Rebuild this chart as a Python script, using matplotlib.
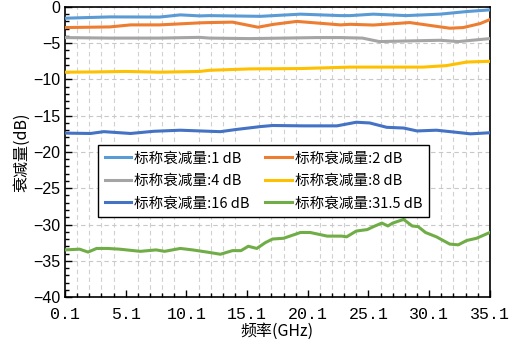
import matplotlib.pyplot as plt
from matplotlib.ticker import MultipleLocator, FixedLocator
import numpy as np

plt.rcParams['font.family'] = ['Noto Sans CJK SC', 'DejaVu Sans']

# frequency (GHz) / attenuation (dB)
f_1 = [0.1, 3.8, 7.9, 9.6, 11.2, 12.0, 16.2, 19.5, 22.8, 23.6, 25.5, 28.2, 31.0, 33.2, 35.1]
a_1 = [-1.56, -1.38, -1.4, -1.1, -1.24, -1.2, -1.3, -1.0, -1.2, -1.2, -1.0, -1.2, -1.0, -0.64, -0.41]

f_2 = [0.1, 3.8, 5.5, 7.9, 11.2, 12.0, 13.9, 16.0, 17.3, 19.2, 22.8, 23.6, 25.5, 28.5, 31.8, 32.9, 34.3, 35.1]
a_2 = [-2.85, -2.76, -2.48, -2.48, -2.2, -2.16, -2.1, -2.8, -2.4, -2.0, -2.48, -2.4, -2.5, -2.16, -2.94, -2.85, -2.3, -1.75]

f_4 = [0.1, 3.8, 7.9, 11.2, 12.0, 15.3, 18.1, 20.8, 22.8, 24.6, 26.0, 28.2, 31.0, 32.5, 35.1]
a_4 = [-4.23, -4.3, -4.3, -4.2, -4.3, -4.37, -4.3, -4.23, -4.23, -4.3, -4.78, -4.7, -4.6, -4.78, -4.37]

f_8 = [0.1, 2.4, 5.1, 7.9, 11.2, 12.0, 15.3, 19.5, 23.6, 26.3, 29.6, 31.5, 33.2, 35.1]
a_8 = [-9.0, -8.97, -8.9, -9.0, -8.9, -8.74, -8.55, -8.5, -8.3, -8.3, -8.3, -8.1, -7.6, -7.5]

f_16 = [0.1, 2.2, 3.3, 5.5, 7.4, 9.6, 11.2, 12.9, 14.2, 16.2, 17.2, 19.7, 22.5, 24.1, 25.2,
        26.6, 28.0, 29.1, 30.7, 32.4, 33.5, 34.6, 35.1]
a_16 = [-17.4, -17.45, -17.2, -17.45, -17.15, -17.0, -17.1, -17.2, -16.9, -16.5, -16.35, -16.4, -16.4, -15.9, -16.0,
        -16.6, -16.7, -17.1, -17.0, -17.3, -17.5, -17.4, -17.35]

f_31 = [0.1, 1.3, 2.0, 2.7, 3.6, 4.6, 6.3, 7.6, 8.3, 9.6, 10.6, 11.8, 12.9, 13.9, 14.6, 15.2, 15.9,
        16.6, 17.2, 18.1, 19.5, 20.3, 21.7, 22.9, 23.3, 24.1, 25.0, 25.5, 26.2, 26.7, 27.1, 28.0,
        28.7, 29.2, 29.8, 30.7, 31.8, 32.5, 33.2, 34.0, 35.1]
a_31 = [-33.5, -33.4, -33.8, -33.3, -33.3, -33.4, -33.7, -33.5, -33.7, -33.3, -33.5, -33.8, -34.1, -33.6, -33.6, -33.0, -33.3,
        -32.5, -32.0, -31.9, -31.1, -31.1, -31.6, -31.6, -31.7, -30.9, -30.7, -30.3, -29.8, -30.2, -29.8, -29.3,
        -30.2, -30.3, -31.1, -31.7, -32.7, -32.8, -32.2, -31.9, -31.1]

labels = ['标称衰减量:1 dB', '标称衰减量:2 dB', '标称衰减量:4 dB',
          '标称衰减量:8 dB', '标称衰减量:16 dB', '标称衰减量:31.5 dB']
colors = ['#5B9BD5', '#ED7D31', '#A5A5A5', '#FFC000', '#4472C4', '#70AD47']
xticks = [0.1, 5.1, 10.1, 15.1, 20.1, 25.1, 30.1, 35.1]
yticks = [0, -5, -10, -15, -20, -25, -30, -35, -40]

fig = plt.figure(figsize=(5.14, 3.45), dpi=100)
ax = fig.add_axes([0.1265, 0.139, 0.8265, 0.841])

series = [(f_1, a_1), (f_2, a_2), (f_4, a_4), (f_8, a_8), (f_16, a_16), (f_31, a_31)]
lines = []
for (f, a), c, lab in zip(series, colors, labels):
    ln, = ax.plot(f, a, color=c, lw=2.2, label=lab, zorder=3)
    lines.append(ln)

ax.set_xlim(0.1, 35.1)
ax.set_ylim(-40, 0)
ax.xaxis.set_major_locator(FixedLocator(xticks))
ax.xaxis.set_minor_locator(FixedLocator(np.arange(0.1, 35.15, 1.0)))
ax.set_yticks(yticks)
ax.yaxis.set_minor_locator(MultipleLocator(1))
ax.set_xticklabels([f"{t:.1f}" for t in xticks], family='Liberation Mono', fontsize=12)
ax.set_yticklabels([f"{t}".replace('-', '\u2212') for t in yticks], family='Liberation Sans', fontsize=11.5)

ax.tick_params(which='both', direction='in', top=False, right=False, color='black')
ax.tick_params(which='major', length=5, width=1)
ax.tick_params(which='minor', length=3, width=1)
ax.tick_params(axis='x', pad=7)
ax.grid(axis='y', which='major', ls=(0, (4, 3)), color='#C8C8C8', lw=0.8)
ax.grid(axis='x', which='minor', ls=(0, (4, 3)), color='#D0D0D0', lw=0.8)
for s in ax.spines.values():
    s.set_linewidth(1.2)
    s.set_color('black')

ax.set_xlabel('频率(GHz)', fontsize=11.5, labelpad=1)
ax.set_ylabel('衰减量(dB)', fontsize=11.5, labelpad=2)

order = [0, 2, 4, 1, 3, 5]
leg = ax.legend([lines[i] for i in order], [labels[i] for i in order], ncol=2,
                loc='upper left', bbox_to_anchor=(0.078, 0.524), fontsize=10.5,
                frameon=True, fancybox=False, edgecolor='black', framealpha=1,
                handlelength=1.8, handletextpad=0.2, columnspacing=1.1,
                labelspacing=0.58, borderpad=0.45, borderaxespad=0)
leg.get_frame().set_linewidth(1.0)

plt.savefig('out.png', dpi=100)
